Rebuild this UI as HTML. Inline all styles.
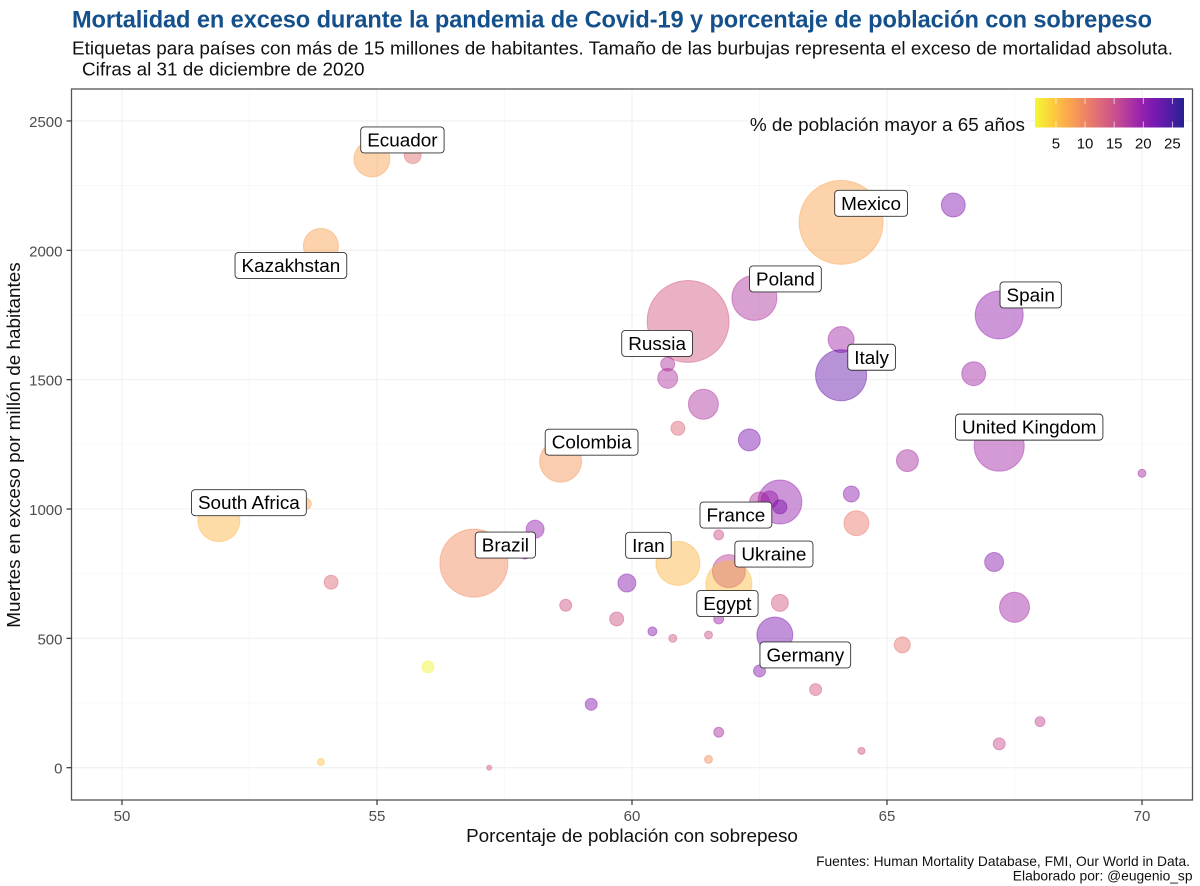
<!DOCTYPE html>
<html lang="es">
<head>
<meta charset="utf-8">
<title>Mortalidad en exceso y sobrepeso</title>
<style>
html,body{margin:0;padding:0;background:#fff;width:1200px;height:886px;overflow:hidden}
svg{display:block}
text{font-family:"Liberation Sans",Arial,sans-serif}
</style>
</head>
<body>
<svg id="chart" xmlns="http://www.w3.org/2000/svg" width="1200" height="886" viewBox="0 0 1200 886">
  <rect width="1200" height="886" fill="#fff"/>
  <text x="72" y="27.5" font-size="23.6" font-weight="700" fill="#14508c" textLength="1080" lengthAdjust="spacing">Mortalidad en exceso durante la pandemia de Covid-19 y porcentaje de población con sobrepeso</text>
  <text x="72" y="54.5" font-size="18.9" fill="#111" textLength="1101" lengthAdjust="spacing">Etiquetas para países con más de 15 millones de habitantes. Tamaño de las burbujas representa el exceso de mortalidad absoluta.</text>
  <text x="82" y="75.5" font-size="18.9" fill="#111">Cifras al 31 de diciembre de 2020</text>
  <g id="grid"></g>
  <g id="points"></g>
  <g id="labels"></g>
  <rect x="71.5" y="89" width="1121" height="711" fill="none" stroke="#555" stroke-width="1.3"/>
  <g id="axes"></g>
  <text x="632" y="842" font-size="18.9" text-anchor="middle" fill="#111">Porcentaje de población con sobrepeso</text>
  <text transform="translate(20,445) rotate(-90)" font-size="18.9" text-anchor="middle" fill="#111">Muertes en exceso por millón de habitantes</text>
  <g id="legend">
    <text x="1025" y="131" font-size="18.9" text-anchor="end" fill="#111">% de población mayor a 65 años</text>
  </g>
  <text x="1190" y="866" font-size="13.8" text-anchor="end" fill="#111">Fuentes: Human Mortality Database, FMI, Our World in Data.</text>
  <text x="1192.5" y="880.5" font-size="13.8" text-anchor="end" fill="#111">Elaborado por: @eugenio_sp</text>
</svg>
<script>
// Data
const overweightPct = [54.9,55.7,53.9,64.1,66.3,62.4,61.1,67.2,64.1,64.1,60.7,60.7,66.7,61.4,60.9,62.3,58.6,67.2,65.4,70,51.9,53.6,58.1,62.9,62.5,62.7,62.9,64.3,64.4,61.7,60.9,61.9,61.9,56.9,57.9,59.9,54.1,58.7,59.7,60.4,60.8,61.5,61.7,62.8,62.9,62.5,63.6,65.3,67.1,67.5,56,59.2,61.7,68,67.2,64.5,61.5,53.9,57.2];
const excessPerMillion = [2353,2368,2017,2108,2175,1816,1725,1750,1655,1517,1560,1505,1523,1405,1312,1267,1185,1243,1187,1138,955,1020,922,1027,1027,1037,1008,1058,945,900,790,760,710,791,830,714,717,628,575,527,500,513,575,513,637,374,302,475,795,620,390,245,137,178,92,65,32,22,0];
const absoluteExcess = [49.6,11,47,270,22,77.5,257,88,26,100,7.5,15.3,22,34.5,7.5,18.5,67.5,96,18.5,2.45,67.5,5,12.4,74,15.3,11,7.5,9.8,24,3.8,74,41.7,81,177,5.5,12.4,7.5,5.5,7.5,3.1,2.45,2.45,3.8,49.6,11,5.5,5.5,9.8,13.8,34.5,5.5,5.5,3.8,3.8,5.5,1.9,2.45,1.9,0.96];
const agePct = [7.6,12,7.5,7.4,21,17.5,14,19.8,18.5,23,17.5,17.5,18.5,17.5,12.5,21.5,8.6,18.5,18,18,6,7.5,19.5,19.5,17.5,19,21,20,11,15,6,16.5,5.6,9.5,20,20.5,12.5,14.5,14.5,20.5,13.5,14.5,19,21.5,14,20.5,14,11.5,20.5,18.5,1.8,20.5,18,15.5,15,14.5,9,5,14];
const pointLabels = ["Ecuador",null,"Kazakhstan","Mexico",null,"Poland","Russia","Spain",null,"Italy",null,null,null,null,null,null,"Colombia","United Kingdom",null,null,"South Africa",null,null,"France",null,null,null,null,null,null,"Iran","Ukraine","Egypt","Brazil",null,null,null,null,null,null,null,null,null,"Germany",null,null,null,null,null,null,null,null,null,null,null,null,null,null,null];
const xTicks = [50,55,60,65,70];
const xMinorTicks = [52.5,57.5,62.5,67.5];
const yTicks = [0,500,1000,1500,2000,2500];
const yMinorTicks = [250,750,1250,1750,2250];
const legendTicks = [5,10,15,20,25];

// Layout and scales
const SVGNS = 'http://www.w3.org/2000/svg';
const panel = {l:71.5, t:89, r:1192.5, b:800};
const xScale = v => 122 + (v - 50) * 51;
const yScale = v => 767.7 - v * 0.2587;
const rScale = v => Math.sqrt(v) * 2.556;
const ageMin = 1.4, ageMax = 27;
const legendBox = {x:1035, y:98, w:149, h:29.5};
const legendScale = v => legendBox.x + (v - ageMin) / (ageMax - ageMin) * legendBox.w;
const plasma = ['#f0f921','#fcce25','#fca636','#f2844b','#e16462','#cc4778','#b12a90','#8f0da4','#6a00a8','#41049d','#0d0887'];
function hexToRgb(h){return [1,3,5].map(i=>parseInt(h.substr(i,2),16));}
function ageColor(a){
  const t = Math.min(1, Math.max(0, (a - ageMin) / (ageMax - ageMin))) * (plasma.length - 1);
  const i = Math.min(plasma.length - 2, Math.floor(t)), f = t - i;
  const c0 = hexToRgb(plasma[i]), c1 = hexToRgb(plasma[i + 1]);
  return 'rgb(' + c0.map((c,k)=>Math.round(c + (c1[k] - c) * f)).join(',') + ')';
}
function mk(tag, parent, attrs, txt){
  const el = document.createElementNS(SVGNS, tag);
  for (const k in attrs) el.setAttribute(k, attrs[k]);
  if (txt !== undefined) el.textContent = txt;
  parent.appendChild(el);
  return el;
}

// Label box placement: pixel offset of box centre from its bubble centre (label repel layout)
const labelOffset = {
  "Ecuador":[30.5,-19],"Kazakhstan":[-30,19.5],"Mexico":[30,-19],"Poland":[31,-19],"Russia":[-31,22],
  "Spain":[31.5,-20],"Italy":[30.5,-18],"Colombia":[31,-19],"United Kingdom":[30,-19],"South Africa":[30,-18],
  "France":[-44,13],"Iran":[-29.5,-18],"Ukraine":[45,-17],"Egypt":[-1.5,19.5],"Brazil":[31.5,-18],"Germany":[30.5,20]
};

const gridG = document.getElementById('grid');
const pointsG = document.getElementById('points');
const labelsG = document.getElementById('labels');
const axesG = document.getElementById('axes');
const legendG = document.getElementById('legend');

// Grid
xMinorTicks.forEach(v=>{
  const el = mk('line', gridG, {x1:xScale(v),x2:xScale(v),y1:panel.t,y2:panel.b,stroke:'#f6f6f6','stroke-width':0.7});
  
  
});
yMinorTicks.forEach(v=>{
  const el = mk('line', gridG, {x1:panel.l,x2:panel.r,y1:yScale(v),y2:yScale(v),stroke:'#f6f6f6','stroke-width':0.7});
  
  
});
xTicks.forEach(v=>{
  const el = mk('line', gridG, {x1:xScale(v),x2:xScale(v),y1:panel.t,y2:panel.b,stroke:'#f0f0f0','stroke-width':1.1});
  
  
});
yTicks.forEach(v=>{
  const el = mk('line', gridG, {x1:panel.l,x2:panel.r,y1:yScale(v),y2:yScale(v),stroke:'#f0f0f0','stroke-width':1.1});
  
  
});

// Axes
xTicks.forEach(v=>{
  const t = mk('line', axesG, {x1:xScale(v),x2:xScale(v),y1:panel.b,y2:panel.b+5,stroke:'#333','stroke-width':1.2});
  
  
  const l = mk('text', axesG, {x:xScale(v),y:821,'font-size':15,'text-anchor':'middle',fill:'#4d4d4d'}, v);
  
  
});
yTicks.forEach(v=>{
  const t = mk('line', axesG, {x1:panel.l-5,x2:panel.l,y1:yScale(v),y2:yScale(v),stroke:'#333','stroke-width':1.2});
  
  
  const l = mk('text', axesG, {x:62.5,y:yScale(v)+6,'font-size':15,'text-anchor':'end',fill:'#4d4d4d'}, v);
  
  
});

// Bubbles
overweightPct.forEach((xv,i)=>{
  const col = ageColor(agePct[i]);
  const c = mk('circle', pointsG, {cx:xScale(xv),cy:yScale(excessPerMillion[i]),r:rScale(absoluteExcess[i]),fill:col,'fill-opacity':0.43,stroke:col,'stroke-opacity':0.4,'stroke-width':1});
  
  
});

// Labels
pointLabels.forEach((name,i)=>{
  if (!name) return;
  const off = labelOffset[name];
  const cx = xScale(overweightPct[i]) + off[0];
  const cy = yScale(excessPerMillion[i]) + off[1];
  const g = mk('g', labelsG, {});
  
  
  const txt = mk('text', g, {x:cx,y:cy+6.5,'font-size':18.9,'text-anchor':'middle',fill:'#000'}, name);
  const w = txt.getComputedTextLength() + 13;
  const box = mk('rect', g, {x:cx-w/2,y:cy-13,width:w,height:26,rx:3.5,ry:3.5,fill:'#fff',stroke:'#333','stroke-width':0.9});
  
  
  g.insertBefore(box, txt);
});

// Legend colour bar
const defs = mk('defs', legendG, {});
const grad = mk('linearGradient', defs, {id:'legend-gradient',x1:0,x2:1,y1:0,y2:0});
plasma.forEach((c,i)=>{
  mk('stop', grad, {offset:(i/(plasma.length-1)*100)+'%','stop-color':c});
});
const bar = mk('rect', legendG, {x:legendBox.x,y:legendBox.y,width:legendBox.w,height:legendBox.h,fill:'url(#legend-gradient)','fill-opacity':0.9});


legendTicks.forEach(v=>{
  const x = legendScale(v);
  const a = mk('line', legendG, {x1:x,x2:x,y1:legendBox.y,y2:legendBox.y+6,stroke:'#fff','stroke-width':0.8,'stroke-opacity':0.8});
  
  
  const b = mk('line', legendG, {x1:x,x2:x,y1:legendBox.y+legendBox.h-6,y2:legendBox.y+legendBox.h,stroke:'#fff','stroke-width':0.8,'stroke-opacity':0.8});
  
  
  const l = mk('text', legendG, {x:x,y:148.5,'font-size':15,'text-anchor':'middle',fill:'#111'}, v);
  
  
});
</script>
</body>
</html>
